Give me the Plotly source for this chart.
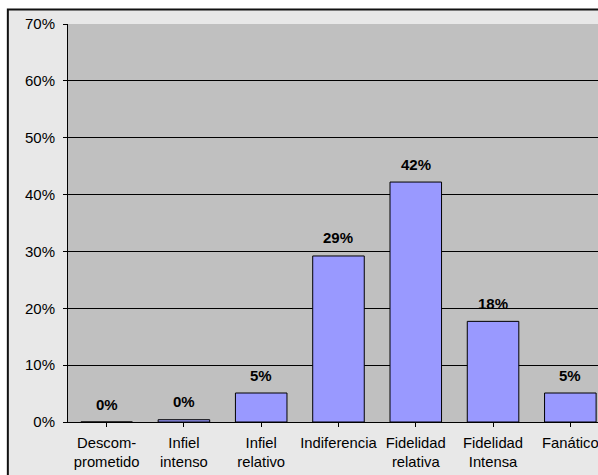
import plotly.graph_objects as go

categories = ["Descom-<br>prometido", "Infiel<br>intenso", "Infiel<br>relativo", "Indiferencia",
              "Fidelidad<br>relativa", "Fidelidad<br>Intensa", "Fanático"]
values = [0.0, 0.004, 0.051, 0.292, 0.422, 0.177, 0.051]
y_ticks = [0, 0.1, 0.2, 0.3, 0.4, 0.5, 0.6, 0.7]

FONT = "Liberation Sans, Arial, sans-serif"

fig = go.Figure()
fig.add_trace(go.Bar(
    x=list(range(len(categories))), y=values,
    marker=dict(color="#9999FF", line=dict(color="#000000", width=1)),
    width=0.667, hoverinfo="skip",
))

for i, v in enumerate(values):
    fig.add_annotation(x=i, y=v, text="<b>%d%%</b>" % round(v * 100), showarrow=False,
                       yanchor="middle", yshift=18,
                       font=dict(family=FONT, size=15, color="#000000"))

# chart area background with border, then plot area background
fig.add_shape(type="rect", xref="paper", yref="paper", x0=-0.1135, x1=1.3, y0=-0.4, y1=1.0365,
              fillcolor="#E8E8E8", line=dict(color="#111111", width=2), layer="below")
fig.add_shape(type="rect", xref="paper", yref="paper", x0=0, x1=1, y0=0, y1=1,
              fillcolor="#C0C0C0", line=dict(width=0), layer="below")

fig.update_layout(
    width=598, height=475,
    margin=dict(l=68, r=0, t=24, b=53),
    paper_bgcolor="#FFFFFF", plot_bgcolor="rgba(0,0,0,0)",
    showlegend=False,
    font=dict(family=FONT, size=15, color="#000000"),
)
fig.update_xaxes(
    range=[-0.5, 6.358], tickmode="array", tickvals=list(range(len(categories))),
    ticktext=categories, tickson="boundaries", ticks="outside", ticklen=4,
    tickcolor="#000000", showline=True, linecolor="#000000", linewidth=1,
    showgrid=False, zeroline=False, tickfont=dict(size=14.8), tickangle=0,
    ticklabelstandoff=3, ticklabeloverflow="allow",
)
fig.update_yaxes(
    range=[0, 0.7], tickvals=y_ticks, tickformat=".0%", ticks="outside", ticklen=4,
    tickcolor="#000000", showline=True, linecolor="#000000", linewidth=1,
    showgrid=True, gridcolor="#000000", gridwidth=1, zeroline=False,
    tickfont=dict(size=15), ticklabelstandoff=5,
)

fig.write_html("out.html")
